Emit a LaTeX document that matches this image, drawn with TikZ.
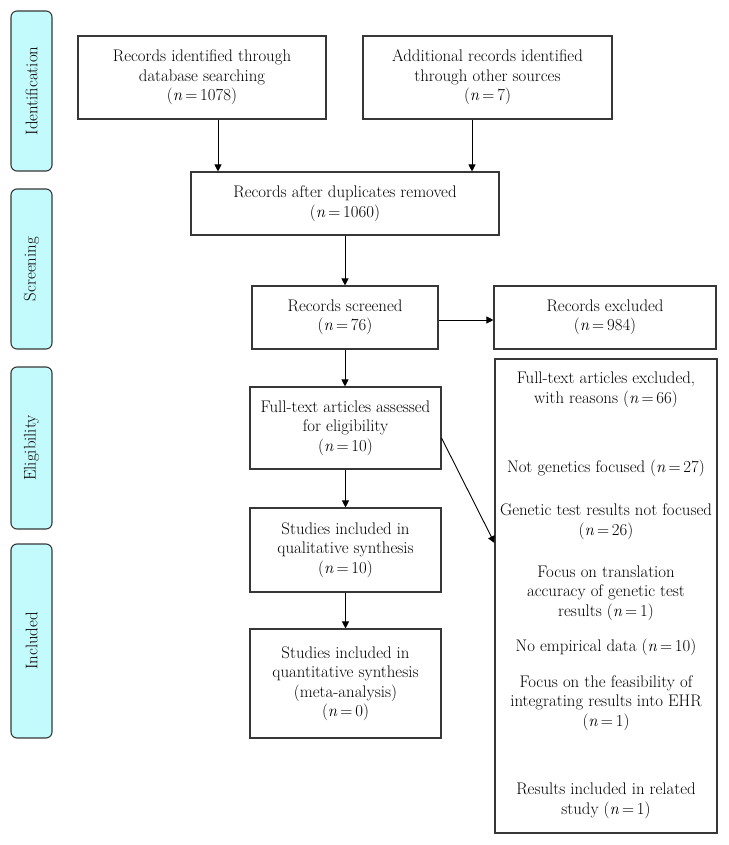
\documentclass[tikz,border=0pt]{standalone}
\usepackage{fontspec}
\usepackage{tikz}
\usetikzlibrary{
  arrows.meta,
  positioning,
  backgrounds
}
\definecolor{tabcyan}{RGB}{195,250,252}
\definecolor{boxline}{RGB}{55,55,55}
\newcommand{\nn}[1]{(\textit{n}\,=\,#1)}

\tikzset{
  box/.style={draw=boxline, line width=1.1pt, align=center, inner sep=2pt,
    font=\fontsize{16.8}{19.5}\selectfont},
  phase/.style={draw=boxline, fill=tabcyan, line width=1.1pt, rounded corners=6pt,
    rotate=90, minimum height=41pt, inner sep=0pt,
    font=\fontsize{16.8}{19.5}\selectfont},
  reason/.style={align=center, font=\fontsize{16.8}{19.5}\selectfont}
}

\begin{document}
\begin{tikzpicture}[>={Triangle[length=7pt,width=7pt]}, x=1pt, y=-1pt, line width=0.9pt]
\useasboundingbox (0,0) rectangle (728,845);

% phases
\node[phase, minimum width=160pt] (ident) at (31.5,91)  {Identification};
\node[phase, minimum width=160pt] (screen) at (31.5,269) {Screening};
\node[phase, minimum width=162pt] (elig) at (31.5,448)  {Eligibility};
\node[phase, minimum width=194pt] (incl) at (31.5,641)  {Included};

% boxes
\node[box, minimum width=248pt, minimum height=83pt] (db) at (202,77.5)
  {Records identified through\\database searching\\\nn{1078}};
\node[box, minimum width=249pt, minimum height=83pt] (other) at (487.5,77.5)
  {Additional records identified\\through other sources\\\nn{7}};
\node[box, minimum width=308pt, minimum height=63pt] (dup) at (345,203.5)
  {Records after duplicates removed\\\nn{1060}};
\node[box, minimum width=186pt, minimum height=63pt] (scr) at (345,317.5)
  {Records screened\\\nn{76}};
\node[box, minimum width=222pt, minimum height=63pt] (excl) at (605,317.5)
  {Records excluded\\\nn{984}};
\node[box, minimum width=191pt, minimum height=82pt] (full) at (345.5,428)
  {Full-text articles assessed\\for eligibility\\\nn{10}};
\node[box, minimum width=191pt, minimum height=84pt] (qual) at (345.5,550)
  {Studies included in\\qualitative synthesis\\\nn{10}};
\node[box, minimum width=191pt, minimum height=109pt] (quant) at (345.5,683.5)
  {Studies included in\\quantitative synthesis\\(meta-analysis)\\\nn{0}};
\node[box, minimum width=222pt, minimum height=474pt] (reasons) at (606,596) {};

% reasons
\node[reason] (r0) at (606,390)   {Full-text articles excluded,\\with reasons \nn{66}};
\node[reason] (r1) at (606,468)   {Not genetics focused \nn{27}};
\node[reason] (r2) at (606,521.5) {Genetic test results not focused\\\nn{26}};
\node[reason] (r3) at (606,593)   {Focus on translation\\accuracy of genetic test\\results \nn{1}};
\node[reason] (r4) at (606,647)   {No empirical data \nn{10}};
\node[reason] (r5) at (606,703)   {Focus on the feasibility of\\integrating results into EHR\\\nn{1}};
\node[reason] (r6) at (606,801)   {Results included in related\\study \nn{1}};

% arrows
\draw[->] ([xshift=16pt]db.south) -- ([xshift=16pt]db.south |- dup.north);
\draw[->] ([xshift=-15.5pt]other.south) -- ([xshift=-15.5pt]other.south |- dup.north);
\draw[->] (dup.south -| scr.north) -- (scr.north);
\draw[->] ([yshift=-2.5pt]scr.east) -- ([yshift=-2.5pt]scr.east -| excl.west);
\draw[->] (scr.south) -- (scr.south |- full.north);
\draw[->] ([yshift=-10pt]full.east) -- ([yshift=53pt]reasons.west);
\draw[->] (full.south) -- (full.south |- qual.north);
\draw[->] (qual.south) -- (qual.south |- quant.north);
\end{tikzpicture}
\end{document}
